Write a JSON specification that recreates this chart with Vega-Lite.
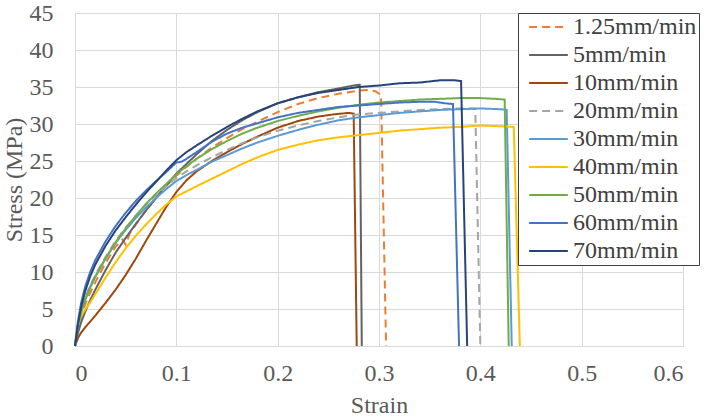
{
  "$schema": "https://vega.github.io/schema/vega-lite/v6.json",
  "width": 608,
  "height": 333,
  "autosize": {"type": "none"},
  "padding": {"left": 75, "top": 13, "right": 23, "bottom": 74},
  "background": "#ffffff",
  "view": {"stroke": null},
  "data": {
    "values": [
      {"series": "1.25mm/min", "strain": 0, "stress": 0},
      {"series": "1.25mm/min", "strain": 0.003, "stress": 2.4},
      {"series": "1.25mm/min", "strain": 0.006, "stress": 4.0},
      {"series": "1.25mm/min", "strain": 0.01, "stress": 5.6},
      {"series": "1.25mm/min", "strain": 0.015, "stress": 7.2},
      {"series": "1.25mm/min", "strain": 0.02, "stress": 8.6},
      {"series": "1.25mm/min", "strain": 0.03, "stress": 11.2},
      {"series": "1.25mm/min", "strain": 0.04, "stress": 13.4},
      {"series": "1.25mm/min", "strain": 0.047, "stress": 14.4},
      {"series": "1.25mm/min", "strain": 0.05, "stress": 13.7},
      {"series": "1.25mm/min", "strain": 0.054, "stress": 15.2},
      {"series": "1.25mm/min", "strain": 0.06, "stress": 16.4},
      {"series": "1.25mm/min", "strain": 0.07, "stress": 18.3},
      {"series": "1.25mm/min", "strain": 0.08, "stress": 20.0},
      {"series": "1.25mm/min", "strain": 0.09, "stress": 21.6},
      {"series": "1.25mm/min", "strain": 0.1, "stress": 23.0},
      {"series": "1.25mm/min", "strain": 0.11, "stress": 24.2},
      {"series": "1.25mm/min", "strain": 0.12, "stress": 25.3},
      {"series": "1.25mm/min", "strain": 0.135, "stress": 26.8},
      {"series": "1.25mm/min", "strain": 0.15, "stress": 28.1},
      {"series": "1.25mm/min", "strain": 0.165, "stress": 29.3},
      {"series": "1.25mm/min", "strain": 0.18, "stress": 30.3},
      {"series": "1.25mm/min", "strain": 0.2, "stress": 31.6},
      {"series": "1.25mm/min", "strain": 0.22, "stress": 32.7},
      {"series": "1.25mm/min", "strain": 0.24, "stress": 33.5},
      {"series": "1.25mm/min", "strain": 0.26, "stress": 34.1},
      {"series": "1.25mm/min", "strain": 0.28, "stress": 34.5},
      {"series": "1.25mm/min", "strain": 0.29, "stress": 34.6},
      {"series": "1.25mm/min", "strain": 0.297, "stress": 34.4},
      {"series": "1.25mm/min", "strain": 0.302, "stress": 33.9},
      {"series": "1.25mm/min", "strain": 0.307, "stress": 0},

      {"series": "5mm/min", "strain": 0, "stress": 0},
      {"series": "5mm/min", "strain": 0.003, "stress": 1.8},
      {"series": "5mm/min", "strain": 0.006, "stress": 3.2},
      {"series": "5mm/min", "strain": 0.01, "stress": 4.6},
      {"series": "5mm/min", "strain": 0.015, "stress": 6.2},
      {"series": "5mm/min", "strain": 0.02, "stress": 7.6},
      {"series": "5mm/min", "strain": 0.03, "stress": 10.2},
      {"series": "5mm/min", "strain": 0.04, "stress": 12.6},
      {"series": "5mm/min", "strain": 0.05, "stress": 14.6},
      {"series": "5mm/min", "strain": 0.06, "stress": 16.5},
      {"series": "5mm/min", "strain": 0.07, "stress": 18.3},
      {"series": "5mm/min", "strain": 0.08, "stress": 20.0},
      {"series": "5mm/min", "strain": 0.09, "stress": 21.7},
      {"series": "5mm/min", "strain": 0.1, "stress": 23.3},
      {"series": "5mm/min", "strain": 0.11, "stress": 24.6},
      {"series": "5mm/min", "strain": 0.12, "stress": 25.9},
      {"series": "5mm/min", "strain": 0.135, "stress": 27.7},
      {"series": "5mm/min", "strain": 0.15, "stress": 29.2},
      {"series": "5mm/min", "strain": 0.165, "stress": 30.5},
      {"series": "5mm/min", "strain": 0.18, "stress": 31.6},
      {"series": "5mm/min", "strain": 0.2, "stress": 32.8},
      {"series": "5mm/min", "strain": 0.22, "stress": 33.6},
      {"series": "5mm/min", "strain": 0.24, "stress": 34.3},
      {"series": "5mm/min", "strain": 0.26, "stress": 34.8},
      {"series": "5mm/min", "strain": 0.275, "stress": 35.2},
      {"series": "5mm/min", "strain": 0.281, "stress": 35.3},
      {"series": "5mm/min", "strain": 0.283, "stress": 0},

      {"series": "10mm/min", "strain": 0, "stress": 0},
      {"series": "10mm/min", "strain": 0.003, "stress": 1.1},
      {"series": "10mm/min", "strain": 0.006, "stress": 1.8},
      {"series": "10mm/min", "strain": 0.01, "stress": 2.5},
      {"series": "10mm/min", "strain": 0.015, "stress": 3.3},
      {"series": "10mm/min", "strain": 0.02, "stress": 4.1},
      {"series": "10mm/min", "strain": 0.03, "stress": 5.8},
      {"series": "10mm/min", "strain": 0.04, "stress": 7.6},
      {"series": "10mm/min", "strain": 0.05, "stress": 9.6},
      {"series": "10mm/min", "strain": 0.06, "stress": 11.8},
      {"series": "10mm/min", "strain": 0.07, "stress": 14.2},
      {"series": "10mm/min", "strain": 0.08, "stress": 16.5},
      {"series": "10mm/min", "strain": 0.09, "stress": 18.8},
      {"series": "10mm/min", "strain": 0.1, "stress": 20.8},
      {"series": "10mm/min", "strain": 0.11, "stress": 22.4},
      {"series": "10mm/min", "strain": 0.12, "stress": 23.6},
      {"series": "10mm/min", "strain": 0.135, "stress": 25.0},
      {"series": "10mm/min", "strain": 0.15, "stress": 26.2},
      {"series": "10mm/min", "strain": 0.165, "stress": 27.3},
      {"series": "10mm/min", "strain": 0.18, "stress": 28.3},
      {"series": "10mm/min", "strain": 0.2, "stress": 29.5},
      {"series": "10mm/min", "strain": 0.22, "stress": 30.4},
      {"series": "10mm/min", "strain": 0.24, "stress": 31.0},
      {"series": "10mm/min", "strain": 0.255, "stress": 31.3},
      {"series": "10mm/min", "strain": 0.27, "stress": 31.5},
      {"series": "10mm/min", "strain": 0.275, "stress": 31.4},
      {"series": "10mm/min", "strain": 0.278, "stress": 0},

      {"series": "20mm/min", "strain": 0, "stress": 0},
      {"series": "20mm/min", "strain": 0.003, "stress": 3.0},
      {"series": "20mm/min", "strain": 0.006, "stress": 4.8},
      {"series": "20mm/min", "strain": 0.01, "stress": 6.5},
      {"series": "20mm/min", "strain": 0.015, "stress": 8.2},
      {"series": "20mm/min", "strain": 0.02, "stress": 9.6},
      {"series": "20mm/min", "strain": 0.03, "stress": 12.0},
      {"series": "20mm/min", "strain": 0.04, "stress": 14.2},
      {"series": "20mm/min", "strain": 0.05, "stress": 16.0},
      {"series": "20mm/min", "strain": 0.06, "stress": 17.6},
      {"series": "20mm/min", "strain": 0.07, "stress": 19.1},
      {"series": "20mm/min", "strain": 0.08, "stress": 20.4},
      {"series": "20mm/min", "strain": 0.09, "stress": 21.6},
      {"series": "20mm/min", "strain": 0.1, "stress": 22.7},
      {"series": "20mm/min", "strain": 0.11, "stress": 23.6},
      {"series": "20mm/min", "strain": 0.12, "stress": 24.4},
      {"series": "20mm/min", "strain": 0.135, "stress": 25.5},
      {"series": "20mm/min", "strain": 0.15, "stress": 26.5},
      {"series": "20mm/min", "strain": 0.165, "stress": 27.4},
      {"series": "20mm/min", "strain": 0.18, "stress": 28.2},
      {"series": "20mm/min", "strain": 0.2, "stress": 29.1},
      {"series": "20mm/min", "strain": 0.22, "stress": 29.8},
      {"series": "20mm/min", "strain": 0.24, "stress": 30.4},
      {"series": "20mm/min", "strain": 0.26, "stress": 30.9},
      {"series": "20mm/min", "strain": 0.28, "stress": 31.3},
      {"series": "20mm/min", "strain": 0.3, "stress": 31.5},
      {"series": "20mm/min", "strain": 0.32, "stress": 31.7},
      {"series": "20mm/min", "strain": 0.34, "stress": 31.9},
      {"series": "20mm/min", "strain": 0.36, "stress": 32.0},
      {"series": "20mm/min", "strain": 0.38, "stress": 32.1},
      {"series": "20mm/min", "strain": 0.395, "stress": 32.1},
      {"series": "20mm/min", "strain": 0.4, "stress": 0},

      {"series": "30mm/min", "strain": 0, "stress": 0},
      {"series": "30mm/min", "strain": 0.003, "stress": 2.9},
      {"series": "30mm/min", "strain": 0.006, "stress": 4.6},
      {"series": "30mm/min", "strain": 0.01, "stress": 6.3},
      {"series": "30mm/min", "strain": 0.015, "stress": 8.0},
      {"series": "30mm/min", "strain": 0.02, "stress": 9.4},
      {"series": "30mm/min", "strain": 0.03, "stress": 11.8},
      {"series": "30mm/min", "strain": 0.04, "stress": 13.9},
      {"series": "30mm/min", "strain": 0.05, "stress": 15.7},
      {"series": "30mm/min", "strain": 0.06, "stress": 17.3},
      {"series": "30mm/min", "strain": 0.07, "stress": 18.7},
      {"series": "30mm/min", "strain": 0.08, "stress": 20.0},
      {"series": "30mm/min", "strain": 0.09, "stress": 21.2},
      {"series": "30mm/min", "strain": 0.1, "stress": 22.3},
      {"series": "30mm/min", "strain": 0.11, "stress": 23.1},
      {"series": "30mm/min", "strain": 0.12, "stress": 23.8},
      {"series": "30mm/min", "strain": 0.135, "stress": 24.9},
      {"series": "30mm/min", "strain": 0.15, "stress": 25.8},
      {"series": "30mm/min", "strain": 0.165, "stress": 26.7},
      {"series": "30mm/min", "strain": 0.18, "stress": 27.5},
      {"series": "30mm/min", "strain": 0.2, "stress": 28.4},
      {"series": "30mm/min", "strain": 0.22, "stress": 29.2},
      {"series": "30mm/min", "strain": 0.24, "stress": 29.9},
      {"series": "30mm/min", "strain": 0.26, "stress": 30.5},
      {"series": "30mm/min", "strain": 0.28, "stress": 30.9},
      {"series": "30mm/min", "strain": 0.3, "stress": 31.2},
      {"series": "30mm/min", "strain": 0.32, "stress": 31.5},
      {"series": "30mm/min", "strain": 0.34, "stress": 31.7},
      {"series": "30mm/min", "strain": 0.36, "stress": 31.9},
      {"series": "30mm/min", "strain": 0.38, "stress": 32.0},
      {"series": "30mm/min", "strain": 0.4, "stress": 32.1},
      {"series": "30mm/min", "strain": 0.42, "stress": 32.0},
      {"series": "30mm/min", "strain": 0.426, "stress": 31.9},
      {"series": "30mm/min", "strain": 0.431, "stress": 0},

      {"series": "40mm/min", "strain": 0, "stress": 0},
      {"series": "40mm/min", "strain": 0.002, "stress": 2.6},
      {"series": "40mm/min", "strain": 0.005, "stress": 3.8},
      {"series": "40mm/min", "strain": 0.01, "stress": 4.9},
      {"series": "40mm/min", "strain": 0.015, "stress": 5.9},
      {"series": "40mm/min", "strain": 0.02, "stress": 7.0},
      {"series": "40mm/min", "strain": 0.03, "stress": 9.2},
      {"series": "40mm/min", "strain": 0.04, "stress": 11.3},
      {"series": "40mm/min", "strain": 0.05, "stress": 13.2},
      {"series": "40mm/min", "strain": 0.06, "stress": 14.9},
      {"series": "40mm/min", "strain": 0.07, "stress": 16.4},
      {"series": "40mm/min", "strain": 0.08, "stress": 17.8},
      {"series": "40mm/min", "strain": 0.09, "stress": 19.1},
      {"series": "40mm/min", "strain": 0.1, "stress": 20.2},
      {"series": "40mm/min", "strain": 0.11, "stress": 20.9},
      {"series": "40mm/min", "strain": 0.12, "stress": 21.6},
      {"series": "40mm/min", "strain": 0.135, "stress": 22.6},
      {"series": "40mm/min", "strain": 0.15, "stress": 23.6},
      {"series": "40mm/min", "strain": 0.165, "stress": 24.6},
      {"series": "40mm/min", "strain": 0.18, "stress": 25.5},
      {"series": "40mm/min", "strain": 0.2, "stress": 26.5},
      {"series": "40mm/min", "strain": 0.22, "stress": 27.2},
      {"series": "40mm/min", "strain": 0.24, "stress": 27.8},
      {"series": "40mm/min", "strain": 0.26, "stress": 28.2},
      {"series": "40mm/min", "strain": 0.28, "stress": 28.5},
      {"series": "40mm/min", "strain": 0.3, "stress": 28.8},
      {"series": "40mm/min", "strain": 0.32, "stress": 29.1},
      {"series": "40mm/min", "strain": 0.34, "stress": 29.3},
      {"series": "40mm/min", "strain": 0.36, "stress": 29.5},
      {"series": "40mm/min", "strain": 0.38, "stress": 29.6},
      {"series": "40mm/min", "strain": 0.4, "stress": 29.8},
      {"series": "40mm/min", "strain": 0.42, "stress": 29.7},
      {"series": "40mm/min", "strain": 0.433, "stress": 29.6},
      {"series": "40mm/min", "strain": 0.439, "stress": 0},

      {"series": "50mm/min", "strain": 0, "stress": 0},
      {"series": "50mm/min", "strain": 0.003, "stress": 2.8},
      {"series": "50mm/min", "strain": 0.006, "stress": 4.5},
      {"series": "50mm/min", "strain": 0.01, "stress": 6.2},
      {"series": "50mm/min", "strain": 0.015, "stress": 7.9},
      {"series": "50mm/min", "strain": 0.02, "stress": 9.3},
      {"series": "50mm/min", "strain": 0.03, "stress": 11.8},
      {"series": "50mm/min", "strain": 0.04, "stress": 14.0},
      {"series": "50mm/min", "strain": 0.05, "stress": 15.9},
      {"series": "50mm/min", "strain": 0.06, "stress": 17.6},
      {"series": "50mm/min", "strain": 0.07, "stress": 19.2},
      {"series": "50mm/min", "strain": 0.08, "stress": 20.6},
      {"series": "50mm/min", "strain": 0.09, "stress": 21.9},
      {"series": "50mm/min", "strain": 0.1, "stress": 23.2},
      {"series": "50mm/min", "strain": 0.11, "stress": 24.3},
      {"series": "50mm/min", "strain": 0.12, "stress": 25.3},
      {"series": "50mm/min", "strain": 0.135, "stress": 26.6},
      {"series": "50mm/min", "strain": 0.15, "stress": 27.7},
      {"series": "50mm/min", "strain": 0.165, "stress": 28.7},
      {"series": "50mm/min", "strain": 0.18, "stress": 29.5},
      {"series": "50mm/min", "strain": 0.2, "stress": 30.4},
      {"series": "50mm/min", "strain": 0.22, "stress": 31.1},
      {"series": "50mm/min", "strain": 0.24, "stress": 31.7},
      {"series": "50mm/min", "strain": 0.26, "stress": 32.2},
      {"series": "50mm/min", "strain": 0.28, "stress": 32.6},
      {"series": "50mm/min", "strain": 0.3, "stress": 32.9},
      {"series": "50mm/min", "strain": 0.32, "stress": 33.1},
      {"series": "50mm/min", "strain": 0.34, "stress": 33.3},
      {"series": "50mm/min", "strain": 0.36, "stress": 33.4},
      {"series": "50mm/min", "strain": 0.38, "stress": 33.5},
      {"series": "50mm/min", "strain": 0.4, "stress": 33.5},
      {"series": "50mm/min", "strain": 0.415, "stress": 33.4},
      {"series": "50mm/min", "strain": 0.424, "stress": 33.3},
      {"series": "50mm/min", "strain": 0.428, "stress": 0},

      {"series": "60mm/min", "strain": 0, "stress": 0},
      {"series": "60mm/min", "strain": 0.003, "stress": 3.4},
      {"series": "60mm/min", "strain": 0.006, "stress": 5.8},
      {"series": "60mm/min", "strain": 0.01, "stress": 8.0},
      {"series": "60mm/min", "strain": 0.015, "stress": 10.0},
      {"series": "60mm/min", "strain": 0.02, "stress": 11.6},
      {"series": "60mm/min", "strain": 0.03, "stress": 14.1},
      {"series": "60mm/min", "strain": 0.04, "stress": 16.2},
      {"series": "60mm/min", "strain": 0.05, "stress": 18.0},
      {"series": "60mm/min", "strain": 0.06, "stress": 19.6},
      {"series": "60mm/min", "strain": 0.07, "stress": 21.0},
      {"series": "60mm/min", "strain": 0.08, "stress": 22.3},
      {"series": "60mm/min", "strain": 0.09, "stress": 23.5},
      {"series": "60mm/min", "strain": 0.1, "stress": 24.8},
      {"series": "60mm/min", "strain": 0.105, "stress": 24.9},
      {"series": "60mm/min", "strain": 0.11, "stress": 25.3},
      {"series": "60mm/min", "strain": 0.12, "stress": 26.2},
      {"series": "60mm/min", "strain": 0.135, "stress": 27.6},
      {"series": "60mm/min", "strain": 0.15, "stress": 28.7},
      {"series": "60mm/min", "strain": 0.165, "stress": 29.5},
      {"series": "60mm/min", "strain": 0.18, "stress": 30.1},
      {"series": "60mm/min", "strain": 0.2, "stress": 30.9},
      {"series": "60mm/min", "strain": 0.22, "stress": 31.5},
      {"series": "60mm/min", "strain": 0.24, "stress": 31.9},
      {"series": "60mm/min", "strain": 0.26, "stress": 32.3},
      {"series": "60mm/min", "strain": 0.28, "stress": 32.5},
      {"series": "60mm/min", "strain": 0.3, "stress": 32.7},
      {"series": "60mm/min", "strain": 0.32, "stress": 32.9},
      {"series": "60mm/min", "strain": 0.34, "stress": 33.0},
      {"series": "60mm/min", "strain": 0.355, "stress": 33.0},
      {"series": "60mm/min", "strain": 0.365, "stress": 32.8},
      {"series": "60mm/min", "strain": 0.373, "stress": 32.7},
      {"series": "60mm/min", "strain": 0.379, "stress": 0},

      {"series": "70mm/min", "strain": 0, "stress": 0},
      {"series": "70mm/min", "strain": 0.003, "stress": 3.0},
      {"series": "70mm/min", "strain": 0.006, "stress": 5.2},
      {"series": "70mm/min", "strain": 0.01, "stress": 7.4},
      {"series": "70mm/min", "strain": 0.015, "stress": 9.4},
      {"series": "70mm/min", "strain": 0.02, "stress": 11.0},
      {"series": "70mm/min", "strain": 0.03, "stress": 13.5},
      {"series": "70mm/min", "strain": 0.04, "stress": 15.6},
      {"series": "70mm/min", "strain": 0.05, "stress": 17.4},
      {"series": "70mm/min", "strain": 0.06, "stress": 19.1},
      {"series": "70mm/min", "strain": 0.07, "stress": 20.7},
      {"series": "70mm/min", "strain": 0.08, "stress": 22.2},
      {"series": "70mm/min", "strain": 0.09, "stress": 23.7},
      {"series": "70mm/min", "strain": 0.1, "stress": 25.1},
      {"series": "70mm/min", "strain": 0.11, "stress": 26.2},
      {"series": "70mm/min", "strain": 0.12, "stress": 27.1},
      {"series": "70mm/min", "strain": 0.135, "stress": 28.4},
      {"series": "70mm/min", "strain": 0.15, "stress": 29.6},
      {"series": "70mm/min", "strain": 0.165, "stress": 30.7},
      {"series": "70mm/min", "strain": 0.18, "stress": 31.7},
      {"series": "70mm/min", "strain": 0.2, "stress": 32.8},
      {"series": "70mm/min", "strain": 0.22, "stress": 33.6},
      {"series": "70mm/min", "strain": 0.24, "stress": 34.2},
      {"series": "70mm/min", "strain": 0.26, "stress": 34.6},
      {"series": "70mm/min", "strain": 0.28, "stress": 35.0},
      {"series": "70mm/min", "strain": 0.3, "stress": 35.2},
      {"series": "70mm/min", "strain": 0.32, "stress": 35.5},
      {"series": "70mm/min", "strain": 0.34, "stress": 35.6},
      {"series": "70mm/min", "strain": 0.36, "stress": 35.9},
      {"series": "70mm/min", "strain": 0.375, "stress": 35.9},
      {"series": "70mm/min", "strain": 0.381, "stress": 35.8},
      {"series": "70mm/min", "strain": 0.387, "stress": 0}
    ]
  },
  "mark": {"type": "line", "strokeWidth": 2, "interpolate": "linear"},
  "encoding": {
    "x": {
      "field": "strain",
      "type": "quantitative",
      "scale": {"domain": [0, 0.6], "nice": false},
      "axis": {
        "title": "Strain",
        "values": [0, 0.1, 0.2, 0.3, 0.4, 0.5, 0.6],
        "format": ".1~f",
        "labelPadding": 15,
        "titleY": 66,
        "titleBaseline": "alphabetic"
      }
    },
    "y": {
      "field": "stress",
      "type": "quantitative",
      "scale": {"domain": [0, 45], "nice": false},
      "axis": {
        "title": "Stress (MPa)",
        "values": [0, 5, 10, 15, 20, 25, 30, 35, 40, 45],
        "labelPadding": 22,
        "titleX": -54,
        "titleBaseline": "alphabetic"
      }
    },
    "color": {
      "field": "series",
      "type": "nominal",
      "scale": {
        "domain": ["1.25mm/min", "5mm/min", "10mm/min", "20mm/min", "30mm/min", "40mm/min", "50mm/min", "60mm/min", "70mm/min"],
        "range": ["#ED7D31", "#636363", "#9E480E", "#A5A5A5", "#5B9BD5", "#FFC000", "#70AD47", "#4472C4", "#264478"]
      },
      "legend": {"title": null}
    },
    "strokeDash": {
      "field": "series",
      "type": "nominal",
      "scale": {
        "domain": ["1.25mm/min", "5mm/min", "10mm/min", "20mm/min", "30mm/min", "40mm/min", "50mm/min", "60mm/min", "70mm/min"],
        "range": [[8, 5], [1, 0], [1, 0], [8, 5], [1, 0], [1, 0], [1, 0], [1, 0], [1, 0]]
      },
      "legend": {"title": null}
    }
  },
  "config": {
    "font": "Times New Roman, Liberation Serif, serif",
    "axis": {
      "labelFont": "Times New Roman, Liberation Serif, serif",
      "titleFont": "Times New Roman, Liberation Serif, serif",
      "labelFontSize": 24,
      "titleFontSize": 24,
      "titleFontWeight": "normal",
      "labelColor": "#595959",
      "titleColor": "#595959",
      "gridColor": "#d9d9d9",
      "gridWidth": 1,
      "domainColor": "#d9d9d9",
      "domainWidth": 1,
      "ticks": false
    },
    "legend": {
      "orient": "none",
      "legendX": 443,
      "legendY": 0,
      "labelFont": "Times New Roman, Liberation Serif, serif",
      "labelFontSize": 24,
      "labelColor": "#404040",
      "labelOffset": 4,
      "symbolType": "stroke",
      "symbolSize": 1500,
      "symbolStrokeWidth": 2,
      "symbolOffset": 8,
      "clipHeight": 24,
      "rowPadding": 4,
      "padding": 2,
      "strokeColor": "#404040",
      "fillColor": "#ffffff"
    }
  }
}
